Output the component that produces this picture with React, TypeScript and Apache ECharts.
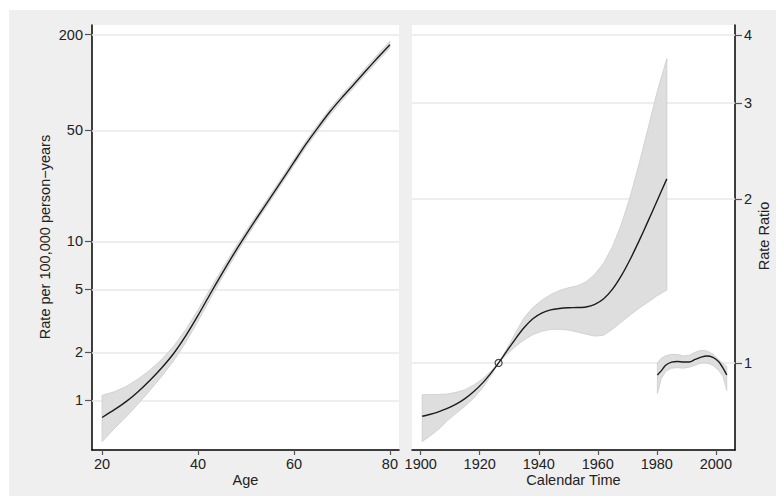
import React, { useEffect, useRef } from "react";
import * as echarts from "echarts";

// ---- Age panel (rate per 100,000 person-years, log scale) ----
const ageValues = [20, 22.5, 25, 27.5, 30, 32.5, 35, 37.5, 40, 42.5, 45, 47.5, 50, 52.5, 55, 57.5, 60, 62.5, 65, 67.5, 70, 72.5, 75, 77.5, 80];
const ageRate = [0.78, 0.87, 0.981, 1.134, 1.338, 1.61, 1.986, 2.56, 3.42, 4.65, 6.27, 8.38, 11.03, 14.4, 18.65, 24.2, 31.5, 40.9, 52.0, 65.4, 80.3, 97.4, 118.5, 143.6, 172.8];
const ageRateUpper = [1.076, 1.131, 1.221, 1.361, 1.552, 1.819, 2.204, 2.803, 3.711, 5.0, 6.678, 8.883, 11.64, 15.12, 19.53, 25.34, 32.98, 42.82, 54.44, 68.47, 84.07, 101.98, 124.07, 150.5, 181.8];
const ageRateLower = [0.55, 0.661, 0.785, 0.947, 1.157, 1.425, 1.787, 2.33, 3.146, 4.325, 5.894, 7.919, 10.48, 13.72, 17.81, 23.11, 30.08, 39.06, 49.66, 62.46, 76.69, 93.02, 113.17, 137.1, 164.5];

// ---- Calendar time panel (rate ratio, log scale) ----
const periodYears = [1900.5, 1903, 1906, 1909, 1912, 1915, 1918, 1921, 1924, 1926.4, 1929, 1932, 1935, 1938, 1941, 1944, 1947, 1950, 1953, 1956, 1959, 1962, 1965, 1968, 1971, 1974, 1977, 1980, 1983.4];
const periodRR = [0.798, 0.804, 0.813, 0.825, 0.84, 0.86, 0.886, 0.919, 0.961, 1.0, 1.048, 1.105, 1.16, 1.205, 1.234, 1.251, 1.259, 1.263, 1.264, 1.267, 1.281, 1.312, 1.366, 1.446, 1.55, 1.675, 1.819, 1.979, 2.177];
const periodRRUpper = [0.874, 0.875, 0.875, 0.877, 0.883, 0.893, 0.911, 0.935, 0.968, 1.0, 1.057, 1.133, 1.21, 1.264, 1.303, 1.335, 1.358, 1.374, 1.385, 1.408, 1.455, 1.525, 1.636, 1.797, 2.022, 2.321, 2.691, 3.127, 3.62];
const periodRRLower = [0.717, 0.733, 0.755, 0.783, 0.808, 0.833, 0.862, 0.9, 0.951, 1.0, 1.034, 1.071, 1.102, 1.127, 1.143, 1.152, 1.153, 1.149, 1.14, 1.129, 1.12, 1.124, 1.153, 1.189, 1.225, 1.26, 1.293, 1.327, 1.361];

const recentYears = [1980.2, 1981.5, 1983, 1985, 1987, 1989, 1991, 1993, 1995, 1997, 1999, 2001, 2002.5, 2003.7];
const recentRR = [0.95, 0.967, 0.99, 1.003, 1.006, 1.004, 1.004, 1.015, 1.025, 1.03, 1.024, 1.005, 0.977, 0.95];
const recentRRUpper = [1.0, 1.02, 1.031, 1.037, 1.036, 1.03, 1.033, 1.046, 1.055, 1.052, 1.038, 1.014, 0.997, 0.985];
const recentRRLower = [0.879, 0.935, 0.965, 0.978, 0.98, 0.978, 0.982, 0.99, 1.0, 1.0, 0.99, 0.968, 0.943, 0.89];

const refYear = 1926.4;
const refRR = 1;

// ---- ticks ----
const ageTicks = [20, 40, 60, 80];
const rateTicks = [1, 2, 5, 10, 50, 200];
const yearTicks = [1900, 1920, 1940, 1960, 1980, 2000];
const rrTicks = [1, 2, 3, 4];

const FONT = "'Liberation Sans', Arial, Helvetica, sans-serif";
const TEXT = "#222";
const BAND = "#dedede";
const BAND_EDGE = "#cbcbcb";
const LINE = "#1c1c1c";
const GRID_LINE = "#e8e8e8";

function bandSeries(xs: number[], lo: number[], hi: number[], gi: number) {
  return {
    type: "custom",
    xAxisIndex: gi,
    yAxisIndex: gi,
    data: xs.map((x, i) => [x, lo[i], hi[i]]),
    encode: { x: 0, y: [1, 2] },
    z: 2,
    silent: true,
    renderItem: (params: any, api: any) => {
      if (params.dataIndex !== 0) return null;
      const upper = xs.map((x, i) => api.coord([x, hi[i]]));
      const lower = xs.map((x, i) => api.coord([x, lo[i]])).reverse();
      return {
        type: "polygon",
        shape: { points: upper.concat(lower) },
        style: { fill: BAND, stroke: BAND_EDGE, lineWidth: 0.8 },
      };
    },
  };
}

function centerSeries(xs: number[], ys: number[], gi: number) {
  return {
    type: "line",
    xAxisIndex: gi,
    yAxisIndex: gi,
    data: xs.map((x, i) => [x, ys[i]]),
    symbol: "none",
    smooth: 0.25,
    lineStyle: { color: LINE, width: 1.4 },
    z: 3,
    silent: true,
  };
}

function gridLineSeries(ticks: number[], gi: number) {
  return {
    type: "line",
    xAxisIndex: gi,
    yAxisIndex: gi,
    data: [],
    z: 1,
    silent: true,
    markLine: {
      silent: true,
      z: 1,
      symbol: ["none", "none"],
      label: { show: false },
      lineStyle: { color: GRID_LINE, width: 1.5, type: "solid" },
      emphasis: { disabled: true },
      data: ticks.map((v) => ({ yAxis: v })),
    },
  };
}

function xAxisCfg(gi: number, min: number, max: number, ticks: number[]) {
  return {
    type: "value",
    gridIndex: gi,
    min,
    max,
    position: "bottom",
    axisLine: { show: true, onZero: false, lineStyle: { color: "#000", width: 1.5 } },
    axisTick: { show: true, customValues: ticks, length: 5, lineStyle: { color: "#555", width: 1.2 } },
    axisLabel: {
      customValues: ticks,
      margin: 6,
      color: TEXT,
      fontSize: 14.5,
      fontFamily: FONT,
      formatter: (v: number) => String(Math.round(v)),
    },
    splitLine: { show: false },
  };
}

function yAxisCfg(gi: number, min: number, max: number, ticks: number[], position: string) {
  return {
    type: "log",
    logBase: 10,
    gridIndex: gi,
    min,
    max,
    position,
    axisLine: { show: true, onZero: false, lineStyle: { color: "#000", width: 1.5 } },
    axisTick: { show: true, customValues: ticks, length: 7, lineStyle: { color: "#555", width: 1.2 } },
    axisLabel: {
      customValues: ticks,
      margin: 9,
      color: TEXT,
      fontSize: 14.5,
      fontFamily: FONT,
      formatter: (v: number) => String(Math.round(v)),
    },
    splitLine: { show: false },
    minorTick: { show: false },
  };
}

export default function App() {
  const ref = useRef<HTMLDivElement>(null);

  useEffect(() => {
    if (!ref.current) return;
    const chart = echarts.init(ref.current, undefined, { renderer: "svg" });
    const option: any = {
      animation: false,
      backgroundColor: "#ffffff",
      grid: [
        { left: 92, top: 25, width: 307, height: 425, show: true, backgroundColor: "#ffffff", borderWidth: 0, outerBoundsMode: "none" },
        { left: 412, top: 25, width: 323, height: 425, show: true, backgroundColor: "#ffffff", borderWidth: 0, outerBoundsMode: "none" },
      ],
      xAxis: [xAxisCfg(0, 17.9, 81.9, ageTicks), xAxisCfg(1, 1897.05, 2006.5, yearTicks)],
      yAxis: [yAxisCfg(0, 0.487, 230, rateTicks, "left"), yAxisCfg(1, 0.692, 4.173, rrTicks, "right")],
      graphic: [
        { type: "rect", z: -10, silent: true, shape: { x: 9, y: 10, width: 767, height: 486 }, style: { fill: "#efefef" } },
        {
          type: "text", silent: true, x: 45, y: 237, rotation: Math.PI / 2,
          style: { text: "Rate per 100,000 person\u2212years", fill: TEXT, font: `14.5px ${FONT}`, align: "center", verticalAlign: "middle" },
        },
        {
          type: "text", silent: true, x: 245.5, y: 480,
          style: { text: "Age", fill: TEXT, font: `14.5px ${FONT}`, align: "center", verticalAlign: "middle" },
        },
        {
          type: "text", silent: true, x: 573.5, y: 480,
          style: { text: "Calendar Time", fill: TEXT, font: `14.5px ${FONT}`, align: "center", verticalAlign: "middle" },
        },
        {
          type: "text", silent: true, x: 764, y: 236, rotation: Math.PI / 2,
          style: { text: "Rate Ratio", fill: TEXT, font: `14.5px ${FONT}`, align: "center", verticalAlign: "middle" },
        },
      ],
      series: [
        gridLineSeries(rateTicks, 0),
        gridLineSeries(rrTicks, 1),
        bandSeries(ageValues, ageRateLower, ageRateUpper, 0),
        centerSeries(ageValues, ageRate, 0),
        bandSeries(periodYears, periodRRLower, periodRRUpper, 1),
        centerSeries(periodYears, periodRR, 1),
        bandSeries(recentYears, recentRRLower, recentRRUpper, 1),
        centerSeries(recentYears, recentRR, 1),
        {
          type: "scatter",
          xAxisIndex: 1,
          yAxisIndex: 1,
          data: [[refYear, refRR]],
          symbol: "circle",
          symbolSize: 7,
          itemStyle: { color: "rgba(0,0,0,0)", borderColor: LINE, borderWidth: 1.2 },
          z: 4,
          silent: true,
        },
      ],
    };
    chart.setOption(option);
    return () => chart.dispose();
  }, []);

  return (
    <div
      ref={ref}
      style={{ position: "fixed", left: 0, top: 0, width: 776, height: 496 }}
    />
  );
}
